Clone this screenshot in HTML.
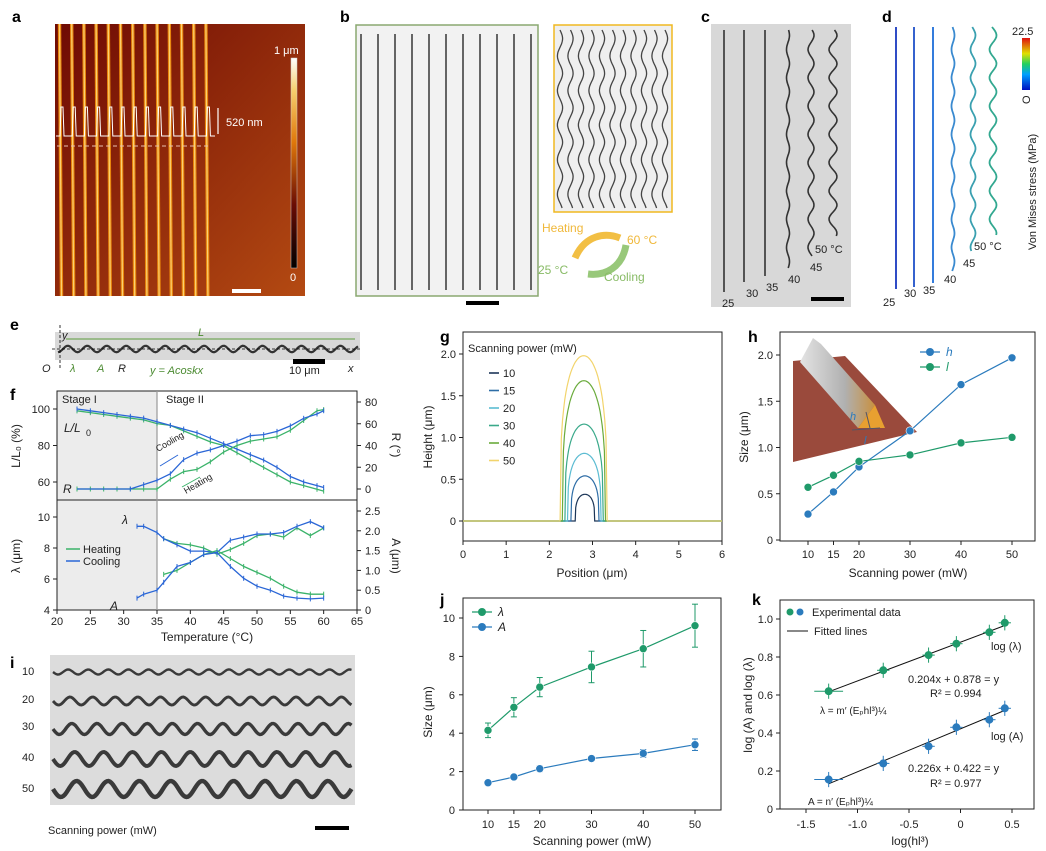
<!DOCTYPE html>
<html><head><meta charset="utf-8">
<style>
html,body{margin:0;padding:0;background:#fff;}
svg{display:block;font-family:"Liberation Sans",Arial,sans-serif;}
</style></head>
<body>
<svg id="fig" width="1046" height="851" viewBox="0 0 1046 851" xmlns="http://www.w3.org/2000/svg">
<defs>
<linearGradient id="afmBg" x1="0" y1="0" x2="1" y2="1"><stop offset="0" stop-color="#6e0a04"/><stop offset="1" stop-color="#b44a12"/></linearGradient>
<linearGradient id="afmBar" x1="0" y1="1" x2="0" y2="0"><stop offset="0" stop-color="#000"/><stop offset="0.3" stop-color="#6a0c04"/><stop offset="0.6" stop-color="#e0780a"/><stop offset="0.85" stop-color="#f7d070"/><stop offset="1" stop-color="#fff"/></linearGradient>
<linearGradient id="jetBar" x1="0" y1="1" x2="0" y2="0"><stop offset="0" stop-color="#0010c0"/><stop offset="0.3" stop-color="#00a0ff"/><stop offset="0.5" stop-color="#20d060"/><stop offset="0.7" stop-color="#e0e000"/><stop offset="1" stop-color="#e01010"/></linearGradient>
<linearGradient id="ridge" x1="0" y1="0" x2="1" y2="0"><stop offset="0" stop-color="#e4e4e4"/><stop offset="0.6" stop-color="#b0b0b0"/><stop offset="1" stop-color="#c89040"/></linearGradient>
</defs>
<g id="root"></g>
</svg>
<script>
const NS='http://www.w3.org/2000/svg';
const root=document.getElementById('root');
function el(tag,attrs,name,parent){
  const e=document.createElementNS(NS,tag);
  for(const k in attrs) e.setAttribute(k,attrs[k]);
  
  
  (parent||root).appendChild(e);
  return e;
}
function txt(x,y,s,o,name,parent){
  o=o||{};
  const a={x:x,y:y,'font-size':o.fs||11,fill:o.fill||'#222'};
  if(o.anchor)a['text-anchor']=o.anchor;
  if(o.weight)a['font-weight']=o.weight;
  if(o.style)a['font-style']=o.style;
  if(o.tr)a.transform=o.tr;
  const t=el('text',a,name,parent);
  t.textContent=s;
  return t;
}
function line(x1,y1,x2,y2,c,w,name,dash){
  const a={x1:x1,y1:y1,x2:x2,y2:y2,stroke:c,'stroke-width':w||1};
  if(dash)a['stroke-dasharray']=dash;
  return el('line',a,name);
}
function poly(pts,c,w,name){
  return el('polyline',{points:pts.map(p=>p[0].toFixed(1)+','+p[1].toFixed(1)).join(' '),fill:'none',stroke:c,'stroke-width':w||1},name);
}

/* ---------- DATA ---------- */
const fT=[23,25,27,29,31,33,35,37,39,41,43,45,47,49,51,53,55,57,59,60];
const fLHeat=[99,98,97,96,95,94,92,91,88,85,82,80,76,72,68,64,60,58,56,55];
const fLCool=[100,99,98,97,96,95,93,91,89,87,84,81,78,75,72,68,63,60,58,57];
const fRHeat=[0,0,0,0,0,0,0,9,16,18,25,34,40,44,46,48,54,63,72,73];
const fRCool=[0,0,0,0,0,4,8,14,27,33,36,40,44,49,50,53,58,65,69,72];
const fT2=[32,33,35,36,38,40,42,44,46,48,50,52,54,56,58,60];
const fLamCool=[9.4,9.4,9.0,8.6,8.2,7.8,7.8,7.7,8.5,8.7,8.9,8.9,9.0,9.4,9.7,9.3];
const fLamHeat=[null,null,null,8.6,8.3,8.2,8.0,7.6,7.9,8.3,8.8,8.9,8.7,9.3,8.8,9.3];
const fACool=[0.3,0.4,0.5,0.7,1.1,1.2,1.4,1.45,1.1,0.8,0.6,0.5,0.35,0.3,0.28,0.3];
const fAHeat=[null,null,null,0.9,1.0,1.2,1.4,1.5,1.3,1.1,0.95,0.8,0.6,0.45,0.4,0.4];
const gPower=[10,15,20,30,40,50];
const gPeak=[0.32,0.54,0.81,1.16,1.68,1.98];
const gLeft=[2.6,2.5,2.42,2.36,2.3,2.25];
const gRight=[3.05,3.15,3.2,3.25,3.3,3.34];
const gColors=['#1c3658','#2e6da6','#5cbcd2','#3aa98a','#6aab3c','#f2d46c'];
const hPower=[10,15,20,30,40,50];
const hH=[0.28,0.52,0.79,1.18,1.68,1.97];
const hL=[0.57,0.70,0.85,0.92,1.05,1.11];
const jPower=[10,15,20,30,40,50];
const jLam=[4.15,5.35,6.4,7.45,8.4,9.6];
const jLamErr=[0.38,0.5,0.5,0.82,0.95,1.12];
const jA=[1.42,1.72,2.15,2.68,2.95,3.4];
const jAErr=[0.08,0.1,0.15,0.12,0.2,0.3];
const kX=[-1.28,-0.75,-0.31,-0.04,0.28,0.43];
const kLam=[0.62,0.73,0.81,0.87,0.93,0.98];
const kA=[0.155,0.24,0.33,0.43,0.47,0.53];
const kFitSlope=[0.204,0.226];
const kFitInt=[0.878,0.422];

/* ---------- panel letters ---------- */
[['a',12,22],['b',340,22],['c',701,22],['d',882,22],['e',10,330],['f',10,400],['g',440,342],['h',748,342],['i',10,668],['j',440,605],['k',752,605]].forEach(p=>{
  txt(p[1],p[2],p[0],{fs:16,weight:'bold',fill:'#000'},'panel-label-'+p[0]);
});

/* ---------- panel a ---------- */
el('rect',{x:55,y:24,width:250,height:272,fill:'url(#afmBg)'},'afm-image');
for(let i=0;i<13;i++){
  const x=59.5+i*12.2;
  el('line',{x1:x,y1:24,x2:x+2,y2:296,stroke:'#e8850c','stroke-width':3.4},'afm-stripe');
  el('line',{x1:x,y1:24,x2:x+2,y2:296,stroke:'#fbd070','stroke-width':1.2},'afm-stripe-core');
}
(function(){let pts=[];for(let i=0;i<13;i++){const x=61+i*12.2;pts.push([x-5,136],[x-1,136],[x,107],[x+2,107],[x+3,136]);}pts.push([215,136]);poly(pts,'#fff',1,'afm-height-profile');})();
line(57,146,210,146,'#e8c0b0',1,'afm-dashed-line','4,3');
line(218,108,218,134,'#fff',1.2,'height-arrow');
txt(226,126,'520 nm',{fs:11,fill:'#fff'},'height-label');
el('rect',{x:291,y:58,width:6,height:210,fill:'url(#afmBar)',stroke:'#ccc','stroke-width':0.5},'afm-colorbar');
txt(274,54,'1 μm',{fs:11,fill:'#fff'},'colorbar-max');
txt(290,281,'0',{fs:11,fill:'#fff'},'colorbar-min');
el('rect',{x:232,y:289,width:29,height:4,fill:'#fff'},'scale-bar-a');

/* ---------- panel b ---------- */
el('rect',{x:356,y:25,width:182,height:271,fill:'#f2f2f2',stroke:'#8aa870','stroke-width':1.5},'microscope-cold');
for(let i=0;i<11;i++){const x=361+i*17;el('line',{x1:x,y1:34,x2:x,y2:290,stroke:'#555','stroke-width':1.8},'straight-ribbon');}
el('rect',{x:554,y:25,width:118,height:187,fill:'#efefef',stroke:'#f0b820','stroke-width':1.5},'microscope-hot');
for(let i=0;i<11;i++){const x=560+i*10.5;let pts=[];for(let y=30;y<=208;y+=2){pts.push([x+2.6*Math.sin((y-30)/5.5),y]);}poly(pts,'#444',1.3,'wavy-ribbon');}
el('path',{d:'M575,258 C585,235 605,232 620,238',fill:'none',stroke:'#f2bf44','stroke-width':7},'heating-arrow');
el('path',{d:'M626,245 C622,268 605,276 588,274',fill:'none',stroke:'#98c87a','stroke-width':7},'cooling-arrow');
txt(542,232,'Heating',{fs:12,fill:'#f0b83a'},'heating-label');
txt(627,244,'60 °C',{fs:12,fill:'#f0b83a'},'hot-temp-label');
txt(538,274,'25 °C',{fs:12,fill:'#88bb66'},'cold-temp-label');
txt(604,281,'Cooling',{fs:12,fill:'#88bb66'},'cooling-label');
el('rect',{x:466,y:301,width:33,height:4,fill:'#000'},'scale-bar-b');

/* ---------- panel c ---------- */
el('rect',{x:711,y:24,width:140,height:283,fill:'#d8d8d8'},'microscope-c');
[[724,292,0],[744,283,0],[765,277,0],[788,269,1.5],[811,257,3],[833,237,4]].forEach(c=>{let pts=[];for(let y=30;y<=c[1];y+=2)pts.push([c[0]+c[2]*Math.sin(y/4.5),y]);poly(pts,'#333',1.6,'ribbon-c');});
[['25',722,307],['30',746,297],['35',766,291],['40',788,283],['45',810,271],['50 °C',815,253]].forEach(l=>txt(l[1],l[2],l[0],{fs:11,fill:'#222'},'temp-label-c'));
el('rect',{x:811,y:297,width:33,height:4,fill:'#000'},'scale-bar-c');

/* ---------- panel d ---------- */
[[896,290,0,'#1838c0'],[914,287,0,'#1f50c8'],[933,283,0,'#1d6ed8'],[953,272,1.5,'#3a8ad0'],[973,252,2.5,'#3aa0b0'],[993,235,3.5,'#32a890']].forEach(c=>{let pts=[];for(let y=27;y<=c[1];y+=2)pts.push([c[0]+c[2]*Math.sin(y/4.5),y]);poly(pts,c[3],1.8,'simulated-ribbon');});
[['25',883,306],['30',904,297],['35',923,294],['40',944,283],['45',963,267],['50 °C',974,250]].forEach(l=>txt(l[1],l[2],l[0],{fs:11,fill:'#222'},'temp-label-d'));
el('rect',{x:1022,y:38,width:8,height:52,fill:'url(#jetBar)'},'stress-colorbar');
txt(1012,35,'22.5',{fs:11},'stress-max');
txt(1030,104,'O',{fs:11,tr:'rotate(-90 1030 104)'},'stress-min');
txt(1036,250,'Von Mises stress (MPa)',{fs:11,tr:'rotate(-90 1036 250)'},'stress-title');

/* ---------- panel e ---------- */
el('rect',{x:55,y:332,width:305,height:28,fill:'#d9d9d9'},'strip-e');
(function(){let pts=[];for(let x=58;x<=358;x+=1.5)pts.push([x,349+3.2*Math.cos((x-58)/3.1)]);poly(pts,'#333',2.2,'wavy-ribbon-e');})();
line(52,349,362,349,'#000',0.8,'x-axis-e','3,2');
line(60,325,60,368,'#000',0.8,'y-axis-e','3,2');
line(66,339,355,339,'#5a9a3a',1,'length-arrow');
txt(198,336,'L',{fs:11,style:'italic',fill:'#4a8a30'},'length-label');
txt(62,339,'y',{fs:11,style:'italic'},'y-label-e');
txt(42,372,'O',{fs:11,style:'italic'},'origin-label');
txt(70,372,'λ',{fs:11,style:'italic',fill:'#4a8a30'},'lambda-label-e');
txt(97,372,'A',{fs:11,style:'italic',fill:'#4a8a30'},'amp-label-e');
txt(118,372,'R',{fs:11,style:'italic'},'r-label-e');
txt(150,374,'y = Acoskx',{fs:11,style:'italic',fill:'#4a8a30'},'equation-e');
el('rect',{x:293,y:359,width:32,height:5,fill:'#000'},'scale-bar-e');
txt(289,374,'10 μm',{fs:11},'scale-label-e');
txt(348,372,'x',{fs:11,style:'italic'},'x-label-e');

/* ---------- panel f ---------- */
const fx=v=>57+(v-20)*300/45;
const fyL=v=>409+(100-v)*73/40;
const fyR=v=>489-v*87/80;
const fyLam=v=>610-(v-4)*93/6;
const fyA=v=>610-v*99/2.5;
el('rect',{x:57,y:391,width:fx(35)-57,height:219,fill:'#ececec'},'stage-one-shade');
el('rect',{x:57,y:391,width:300,height:219,fill:'none',stroke:'#222','stroke-width':1},'frame-f');
line(57,500,357,500,'#222',1,'divider-f');
line(fx(35),391,fx(35),610,'#999',1.2,'stage-divider');
txt(62,403,'Stage I',{fs:11},'stage-one-label');
txt(166,403,'Stage II',{fs:11},'stage-two-label');
[20,25,30,35,40,45,50,55,60,65].forEach(t=>{line(fx(t),610,fx(t),614,'#222',1,'x-tick-f');txt(fx(t),625,String(t),{fs:11,anchor:'middle'},'x-tick-label-f');});
txt(207,641,'Temperature (°C)',{fs:12,anchor:'middle'},'x-axis-title-f');
[60,80,100].forEach(v=>{line(53,fyL(v),57,fyL(v),'#222',1,'y-tick-f');txt(50,fyL(v)+4,String(v),{fs:11,anchor:'end'},'y-tick-label-f');});
[0,20,40,60,80].forEach(v=>{line(357,fyR(v),361,fyR(v),'#222',1,'r-tick');txt(365,fyR(v)+4,String(v),{fs:11},'r-tick-label');});
[4,6,8,10].forEach(v=>{line(53,fyLam(v),57,fyLam(v),'#222',1,'lam-tick');txt(50,fyLam(v)+4,String(v),{fs:11,anchor:'end'},'lam-tick-label');});
[0,0.5,1.0,1.5,2.0,2.5].forEach(v=>{line(357,fyA(v),361,fyA(v),'#222',1,'a-tick');txt(365,fyA(v)+4,v===0?'0':v.toFixed(1),{fs:11},'a-tick-label');});
txt(20,446,'L/L₀ (%)',{fs:12,anchor:'middle',tr:'rotate(-90 20 446)'},'y-axis-title-f-left');
txt(392,445,'R (°)',{fs:12,anchor:'middle',tr:'rotate(90 392 445)'},'y-axis-title-f-right');
txt(20,556,'λ (μm)',{fs:12,anchor:'middle',tr:'rotate(-90 20 556)'},'y-axis-title-lambda');
txt(392,556,'A (μm)',{fs:12,anchor:'middle',tr:'rotate(90 392 556)'},'y-axis-title-a');
const GREEN='#3bb36a',BLUE='#2a66d6';
function fSeries(xs,ys,fy,c,name){
  const pts=[];xs.forEach((t,i)=>{if(ys[i]!==null)pts.push([fx(t),fy(ys[i])]);});
  poly(pts,c,1.3,name);
  pts.forEach(p=>{line(p[0],p[1]-2.5,p[0],p[1]+2.5,c,1,name+'-errorbar');});
}
fSeries(fT,fLHeat,fyL,GREEN,'l-heating');
fSeries(fT,fLCool,fyL,BLUE,'l-cooling');
fSeries(fT,fRHeat,fyR,GREEN,'r-heating');
fSeries(fT.slice(4),fRCool.slice(4),fyR,BLUE,'r-cooling');
line(fx(23),fyR(0),fx(31),fyR(0),BLUE,1.3,'r-cooling-flat');
fSeries(fT2,fLamHeat,fyLam,GREEN,'lambda-heating');
fSeries(fT2,fLamCool,fyLam,BLUE,'lambda-cooling');
fSeries(fT2,fAHeat,fyA,GREEN,'a-heating');
fSeries(fT2,fACool,fyA,BLUE,'a-cooling');
txt(64,432,'L/L',{fs:12,style:'italic'},'l-curve-label');txt(86,436,'0',{fs:9},'l-curve-sub');
txt(63,493,'R',{fs:12,style:'italic'},'r-curve-label');
txt(122,524,'λ',{fs:12,style:'italic'},'lambda-curve-label');
txt(110,610,'A',{fs:12,style:'italic'},'a-curve-label');
txt(158,452,'Cooling',{fs:9,tr:'rotate(-30 158 452)'},'cooling-annot');
line(178,455,160,466,BLUE,1,'cooling-annot-arrow');
txt(186,494,'Heating',{fs:9,tr:'rotate(-30 186 494)'},'heating-annot');
line(182,487,200,477,GREEN,1,'heating-annot-arrow');
line(66,549,80,549,GREEN,1.5,'legend-heating-line');txt(83,553,'Heating',{fs:11},'legend-heating');
line(66,561,80,561,BLUE,1.5,'legend-cooling-line');txt(83,565,'Cooling',{fs:11},'legend-cooling');

/* ---------- panel g ---------- */
const gx=v=>463+v*(722-463)/6;
const gy=v=>521-v*(521-354)/2;
el('rect',{x:463,y:332,width:259,height:209,fill:'none',stroke:'#222'},'frame-g');
[0,1,2,3,4,5,6].forEach(v=>{line(gx(v),541,gx(v),545,'#222',1,'x-tick-g');txt(gx(v),558,String(v),{fs:11,anchor:'middle'},'x-tick-label-g');});
[0,0.5,1.0,1.5,2.0].forEach(v=>{line(459,gy(v),463,gy(v),'#222',1,'y-tick-g');txt(456,gy(v)+4,v===0?'0':v.toFixed(1),{fs:11,anchor:'end'},'y-tick-label-g');});
txt(592,577,'Position (μm)',{fs:12,anchor:'middle'},'x-axis-title-g');
txt(432,437,'Height (μm)',{fs:12,anchor:'middle',tr:'rotate(-90 432 437)'},'y-axis-title-g');
txt(468,352,'Scanning power (mW)',{fs:11},'legend-title-g');
gPower.forEach((p,i)=>{
  const c=(gLeft[i]+gRight[i])/2,w=(gRight[i]-gLeft[i])/2;const pts=[[gx(0),gy(0)],[gx(gLeft[i]),gy(0)]];
  for(let k=0;k<=40;k++){const x=gLeft[i]+2*w*k/40;const u=(x-c)/w;pts.push([gx(x),gy(gPeak[i]*Math.pow(Math.max(0,1-u*u),0.3))]);}
  pts.push([gx(gRight[i]),gy(0)],[gx(6),gy(0)]);
  poly(pts,gColors[i],1.2,'profile-'+p);
  line(489,373+i*17.5,499,373+i*17.5,gColors[i],1.6,'legend-line-g');
  txt(503,377+i*17.5,String(p),{fs:11},'legend-label-g');
});

/* ---------- panel h ---------- */
const hx=v=>808+(v-10)*(1012-808)/40;
const hy=v=>540-v*(540-355)/2;
el('rect',{x:780,y:332,width:255,height:209,fill:'none',stroke:'#222'},'frame-h');
hPower.forEach(v=>{line(hx(v),541,hx(v),545,'#222',1,'x-tick-h');txt(hx(v),558,String(v),{fs:11,anchor:'middle'},'x-tick-label-h');});
[0,0.5,1.0,1.5,2.0].forEach(v=>{line(776,hy(v),780,hy(v),'#222',1,'y-tick-h');txt(773,hy(v)+4,v===0?'0':v.toFixed(1),{fs:11,anchor:'end'},'y-tick-label-h');});
txt(908,577,'Scanning power (mW)',{fs:12,anchor:'middle'},'x-axis-title-h');
txt(748,437,'Size (μm)',{fs:12,anchor:'middle',tr:'rotate(-90 748 437)'},'y-axis-title-h');
el('polygon',{points:'793,361 845,356 917,432 793,462',fill:'#9a4a3c'},'inset-substrate');
el('polygon',{points:'800,362 813,338 821,344 875,405 858,428',fill:'url(#ridge)'},'inset-ridge');
el('polygon',{points:'858,428 875,405 885,428',fill:'#e8a030'},'inset-ridge-end');
line(866,412,870,428,'#556',1,'inset-h-arrow');
line(852,430,880,428,'#556',1,'inset-l-arrow');
txt(850,420,'h',{fs:11,style:'italic',fill:'#2b7bbd'},'inset-h');
txt(864,444,'l',{fs:11,style:'italic',fill:'#2b7bbd'},'inset-l');
function markerSeries(xs,ys,fx_,fy_,c,name,errs){
  poly(xs.map((v,i)=>[fx_(v),fy_(ys[i])]),c,1.2,name+'-line');
  xs.forEach((v,i)=>{
    if(errs){line(fx_(v),fy_(ys[i]-errs[i]),fx_(v),fy_(ys[i]+errs[i]),c,1,name+'-errorbar');line(fx_(v)-3,fy_(ys[i]-errs[i]),fx_(v)+3,fy_(ys[i]-errs[i]),c,1,name+'-errorcap');line(fx_(v)-3,fy_(ys[i]+errs[i]),fx_(v)+3,fy_(ys[i]+errs[i]),c,1,name+'-errorcap');}
    el('circle',{cx:fx_(v),cy:fy_(ys[i]),r:4,fill:c,stroke:'#fff','stroke-width':0.6},name+'-point');
  });
}
const HB='#2b7bbd',HG='#1f9a6a';
markerSeries(hPower,hH,hx,hy,HB,'h-series');
markerSeries(hPower,hL,hx,hy,HG,'l-series');
line(920,352,940,352,HB,1.2,'legend-h-line');el('circle',{cx:930,cy:352,r:4,fill:HB},'legend-h-marker');txt(946,356,'h',{fs:12,style:'italic',fill:HB},'legend-h');
line(920,367,940,367,HG,1.2,'legend-l-line');el('circle',{cx:930,cy:367,r:4,fill:HG},'legend-l-marker');txt(946,371,'l',{fs:12,style:'italic',fill:HG},'legend-l');

/* ---------- panel i ---------- */
el('rect',{x:50,y:655,width:305,height:150,fill:'#dcdcdc'},'microscope-i');
[[672,2.5,3.2],[701,4,3.6],[729,5.5,4],[759,7,4.6],[789,8,5]].forEach((r,i)=>{let pts=[];for(let x=53;x<=352;x+=1.5)pts.push([x,r[0]+r[1]*Math.sin((x-53)/r[2])]);poly(pts,'#3a3a3a',2.4+i*0.5,'ribbon-row-i');});
['10','20','30','40','50'].forEach((s,i)=>txt(22,[675,703,730,761,792][i],s,{fs:11},'power-label-i'));
txt(48,834,'Scanning power (mW)',{fs:11},'caption-i');
el('rect',{x:315,y:826,width:34,height:4,fill:'#000'},'scale-bar-i');

/* ---------- panel j ---------- */
const jx=v=>488+(v-10)*(695-488)/40;
const jy=v=>810-v*(810-618)/10;
el('rect',{x:463,y:598,width:258,height:212,fill:'none',stroke:'#222'},'frame-j');
jPower.forEach(v=>{line(jx(v),810,jx(v),814,'#222',1,'x-tick-j');txt(jx(v),828,String(v),{fs:11,anchor:'middle'},'x-tick-label-j');});
[0,2,4,6,8,10].forEach(v=>{line(459,jy(v),463,jy(v),'#222',1,'y-tick-j');txt(455,jy(v)+4,String(v),{fs:11,anchor:'end'},'y-tick-label-j');});
txt(592,845,'Scanning power (mW)',{fs:12,anchor:'middle'},'x-axis-title-j');
txt(432,712,'Size (μm)',{fs:12,anchor:'middle',tr:'rotate(-90 432 712)'},'y-axis-title-j');
markerSeries(jPower,jLam,jx,jy,HG,'lambda-series',jLamErr);
markerSeries(jPower,jA,jx,jy,HB,'a-series',jAErr);
line(472,612,492,612,HG,1.2,'legend-lambda-line');el('circle',{cx:482,cy:612,r:4,fill:HG},'legend-lambda-marker');txt(498,616,'λ',{fs:12,style:'italic'},'legend-lambda');
line(472,627,492,627,HB,1.2,'legend-a-line');el('circle',{cx:482,cy:627,r:4,fill:HB},'legend-a-marker');txt(498,631,'A',{fs:12,style:'italic'},'legend-a');

/* ---------- panel k ---------- */
const kx=v=>806+(v+1.5)*(1012-806)/2;
const ky=v=>809-v*(809-619);
el('rect',{x:780,y:600,width:254,height:209,fill:'none',stroke:'#222'},'frame-k');
[-1.5,-1.0,-0.5,0,0.5].forEach(v=>{line(kx(v),809,kx(v),813,'#222',1,'x-tick-k');txt(kx(v),828,v===0?'0':v.toFixed(1),{fs:11,anchor:'middle'},'x-tick-label-k');});
[0,0.2,0.4,0.6,0.8,1.0].forEach(v=>{line(776,ky(v),780,ky(v),'#222',1,'y-tick-k');txt(773,ky(v)+4,v===0?'0':v.toFixed(1),{fs:11,anchor:'end'},'y-tick-label-k');});
txt(910,845,'log(hl³)',{fs:12,anchor:'middle'},'x-axis-title-k');
txt(752,705,'log (A) and log (λ)',{fs:12,anchor:'middle',tr:'rotate(-90 752 705)'},'y-axis-title-k');
[0,1].forEach(s=>{line(kx(kX[0]),ky(kFitSlope[s]*kX[0]+kFitInt[s]),kx(kX[5]),ky(kFitSlope[s]*kX[5]+kFitInt[s]),'#111',1,'fit-line');});
function kPts(ys,c,name){ys.forEach((v,i)=>{
  line(kx(kX[i]),ky(v-0.04),kx(kX[i]),ky(v+0.04),c,1,name+'-yerr');
  const xe=i===0?0.14:0.06;line(kx(kX[i]-xe),ky(v),kx(kX[i]+xe),ky(v),c,1,name+'-xerr');
  el('circle',{cx:kx(kX[i]),cy:ky(v),r:4,fill:c},name+'-point');});}
kPts(kLam,HG,'log-lambda');
kPts(kA,HB,'log-a');
el('circle',{cx:790,cy:612,r:3.5,fill:HG},'legend-exp-green');el('circle',{cx:800,cy:612,r:3.5,fill:HB},'legend-exp-blue');
txt(812,616,'Experimental data',{fs:11},'legend-experimental');
line(787,631,808,631,'#111',1,'legend-fit-line');txt(814,635,'Fitted lines',{fs:11},'legend-fitted');
txt(991,650,'log (λ)',{fs:11},'label-log-lambda');
txt(991,740,'log (A)',{fs:11},'label-log-a');
txt(908,683,'0.204x + 0.878 = y',{fs:11},'fit-eq-lambda');
txt(930,697,'R² = 0.994',{fs:11},'fit-r2-lambda');
txt(908,772,'0.226x + 0.422 = y',{fs:11},'fit-eq-a');
txt(930,787,'R² = 0.977',{fs:11},'fit-r2-a');
txt(820,714,'λ = m′ (Eₚhl³)¼',{fs:10},'formula-lambda');
txt(808,805,'A = n′ (Eₚhl³)¼',{fs:10},'formula-a');
</script>
</body></html>
